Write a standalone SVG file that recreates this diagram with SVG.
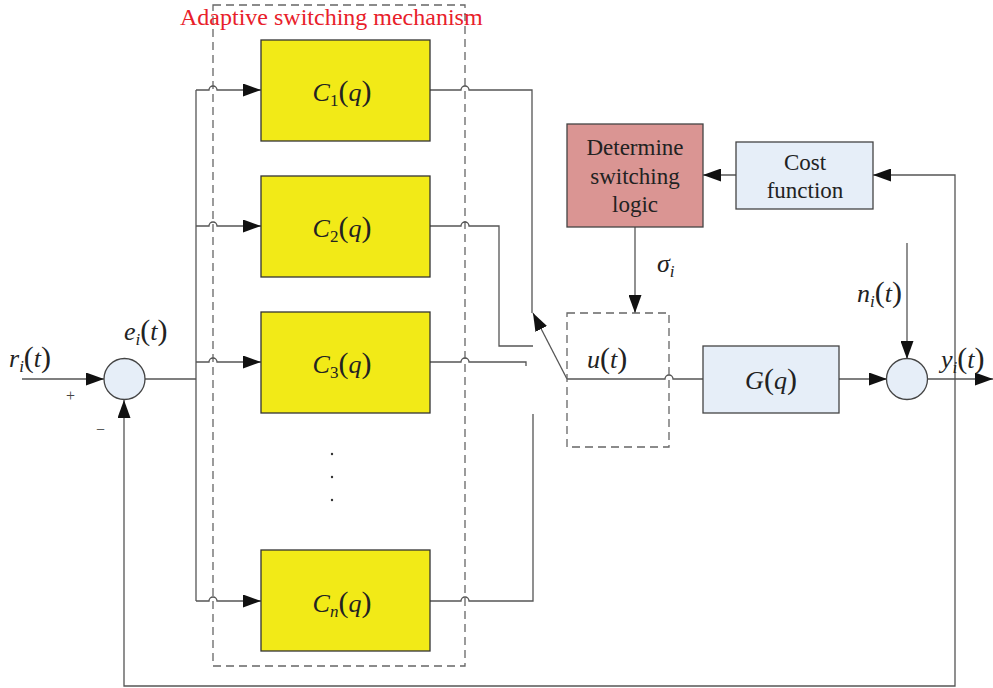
<svg xmlns="http://www.w3.org/2000/svg" width="993" height="688" viewBox="0 0 993 688">
  <style>
    .wire { fill: none; stroke: #555; stroke-width: 1.3; }
    .dash { fill: none; stroke: #666; stroke-width: 1.3; stroke-dasharray: 8 5; }
    .ctrl { fill: #F2EA17; stroke: #333; stroke-width: 1.3; }
    .blue { fill: #E6EEF8; stroke: #444; stroke-width: 1.3; }
    .red  { fill: #DA9593; stroke: #444; stroke-width: 1.3; }
    .math { font-family: "Liberation Serif", "Times New Roman", serif; font-size: 26px; fill: #222; }
    .it { font-style: italic; }
    .sub { font-size: 17px; }
    .par { font-size: 30px; }
    .txt { font-family: "Liberation Serif", "Times New Roman", serif; font-size: 23px; fill: #222; text-anchor: middle; }
    .sign { font-family: "Liberation Serif", "Times New Roman", serif; font-size: 16px; fill: #444; }
  </style>
  <defs>
    <marker id="arr" viewBox="0 0 18 13" refX="18" refY="6.5" markerWidth="18" markerHeight="13" orient="auto" markerUnits="userSpaceOnUse">
      <path d="M0,0 L18,6.5 L0,13 z" fill="#111"/>
    </marker>
  </defs>

  <!-- switching mechanism enclosure -->
  <g id="adaptive-switching">
    <rect class="dash" x="213" y="5" width="252" height="661"/>
    <text x="180" y="25" style="font-family:'Liberation Serif','Times New Roman',serif;font-size:24px;fill:#E8202A">Adaptive switching mechanism</text>
  </g>

  <!-- connectors -->
  <g id="connectors">
    <path class="wire" d="M22,379 H104" marker-end="url(#arr)"/>
    <path class="wire" d="M145,379 H196"/>
    <path class="wire" d="M196,90 V601"/>
    <path class="wire" d="M196,90 H209 A4,4 0 0 1 217,90 H261" marker-end="url(#arr)"/>
    <path class="wire" d="M196,226 H209 A4,4 0 0 1 217,226 H261" marker-end="url(#arr)"/>
    <path class="wire" d="M196,362 H209 A4,4 0 0 1 217,362 H261" marker-end="url(#arr)"/>
    <path class="wire" d="M196,601 H209 A4,4 0 0 1 217,601 H261" marker-end="url(#arr)"/>

    <path class="wire" d="M430,90 H461 A4,4 0 0 1 469,90 H532 V313"/>
    <path class="wire" d="M430,226 H461 A4,4 0 0 1 469,226 H499 V346 H533"/>
    <path class="wire" d="M430,362 H461 A4,4 0 0 1 469,362 H526 V366"/>
    <path class="wire" d="M430,601 H461 A4,4 0 0 1 469,601 H533 V414"/>

    <path class="wire" d="M567,379 L533,313" marker-end="url(#arr)"/>
    <path class="wire" d="M567,379 H665 A4,4 0 0 1 673,379 H703"/>

    <path class="wire" d="M635,227 V313" marker-end="url(#arr)"/>
    <path class="wire" d="M736,175 H703" marker-end="url(#arr)"/>

    <path class="wire" d="M839,379 H887" marker-end="url(#arr)"/>
    <path class="wire" d="M907,243 V359" marker-end="url(#arr)"/>
    <path class="wire" d="M927,379 H993" marker-end="url(#arr)"/>

    <path class="wire" d="M955,379 V686 H124 V400" marker-end="url(#arr)"/>
    <path class="wire" d="M955,379 V175 H873" marker-end="url(#arr)"/>
  </g>

  <!-- summing junction (error) -->
  <g id="sum-error">
    <circle class="blue" cx="124.5" cy="379" r="20.5"/>
    <text class="sign" x="66" y="401">+</text>
    <text class="sign" x="96" y="435">−</text>
  </g>

  <!-- controllers -->
  <g id="c1">
    <rect class="ctrl" x="261" y="40" width="169" height="101"/>
    <text class="math" x="342" y="101" text-anchor="middle"><tspan class="it">C</tspan><tspan class="sub" dy="5">1</tspan><tspan class="par" dy="-5">(</tspan><tspan class="it">q</tspan><tspan class="par">)</tspan></text>
  </g>
  <g id="c2">
    <rect class="ctrl" x="261" y="176" width="169" height="101"/>
    <text class="math" x="342" y="237" text-anchor="middle"><tspan class="it">C</tspan><tspan class="sub" dy="5">2</tspan><tspan class="par" dy="-5">(</tspan><tspan class="it">q</tspan><tspan class="par">)</tspan></text>
  </g>
  <g id="c3">
    <rect class="ctrl" x="261" y="312" width="169" height="101"/>
    <text class="math" x="342" y="373" text-anchor="middle"><tspan class="it">C</tspan><tspan class="sub" dy="5">3</tspan><tspan class="par" dy="-5">(</tspan><tspan class="it">q</tspan><tspan class="par">)</tspan></text>
  </g>
  <g id="ellipsis">
    <circle cx="332" cy="454" r="1.2" fill="#333"/>
    <circle cx="332" cy="477" r="1.2" fill="#333"/>
    <circle cx="332" cy="500" r="1.2" fill="#333"/>
  </g>
  <g id="cn">
    <rect class="ctrl" x="261" y="550" width="169" height="101"/>
    <text class="math" x="342" y="612" text-anchor="middle"><tspan class="it">C</tspan><tspan class="sub it" dy="5">n</tspan><tspan class="par" dy="-5">(</tspan><tspan class="it">q</tspan><tspan class="par">)</tspan></text>
  </g>

  <!-- switch -->
  <g id="switch">
    <rect class="dash" x="567" y="313" width="102" height="134"/>
  </g>

  <g id="switching-logic">
    <rect class="red" x="567" y="124" width="136" height="103"/>
    <text class="txt" x="635" y="155">Determine</text>
    <text class="txt" x="635" y="184">switching</text>
    <text class="txt" x="635" y="212">logic</text>
  </g>

  <g id="cost-function">
    <rect class="blue" x="736" y="142" width="137" height="67"/>
    <text class="txt" x="805" y="170">Cost</text>
    <text class="txt" x="805" y="198">function</text>
  </g>

  <g id="plant">
    <rect class="blue" x="703" y="346" width="136" height="67"/>
    <text class="math" x="771" y="389" text-anchor="middle"><tspan class="it">G</tspan><tspan class="par">(</tspan><tspan class="it">q</tspan><tspan class="par">)</tspan></text>
  </g>

  <g id="sum-output">
    <circle class="blue" cx="907" cy="379" r="20.5"/>
  </g>

  <!-- signal labels -->
  <g id="labels">
    <text class="math" x="9" y="367"><tspan class="it">r</tspan><tspan class="sub it" dy="5">i</tspan><tspan class="par" dy="-5">(</tspan><tspan class="it">t</tspan><tspan class="par">)</tspan></text>
    <text class="math" x="124" y="340"><tspan class="it">e</tspan><tspan class="sub it" dy="5">i</tspan><tspan class="par" dy="-5">(</tspan><tspan class="it">t</tspan><tspan class="par">)</tspan></text>
    <text class="math" x="587" y="368"><tspan class="it">u</tspan><tspan class="par">(</tspan><tspan class="it">t</tspan><tspan class="par">)</tspan></text>
    <text class="math" x="657" y="272"><tspan class="it">σ</tspan><tspan class="sub it" dy="5">i</tspan></text>
    <text class="math" x="857" y="302"><tspan class="it">n</tspan><tspan class="sub it" dy="5">i</tspan><tspan class="par" dy="-5">(</tspan><tspan class="it">t</tspan><tspan class="par">)</tspan></text>
    <text class="math" x="941" y="368"><tspan class="it">y</tspan><tspan class="sub it" dy="5">i</tspan><tspan class="par" dy="-5">(</tspan><tspan class="it">t</tspan><tspan class="par">)</tspan></text>
  </g>
</svg>
